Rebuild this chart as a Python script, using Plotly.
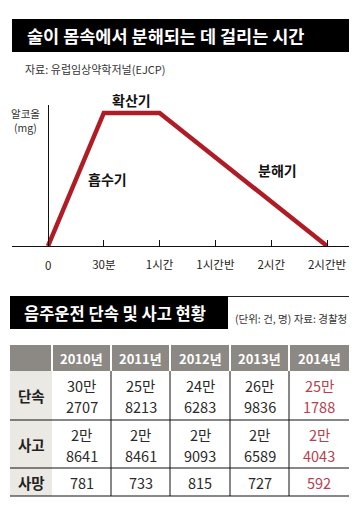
import plotly.graph_objects as go

W, H = 363, 514
FONT = "Noto Sans CJK KR"

# ---- chart data ----
time_min = [0, 30, 60, 150]
alcohol = [0, 100, 100, 0]
tick_vals = [0, 30, 60, 90, 120, 150]
tick_text = ["0", "30분", "1시간", "1시간반", "2시간", "2시간반"]
phase_labels = ["확산기", "흡수기", "분해기"]

# ---- table data ----
row_labels = ["단속", "사고", "사망"]
years = ["2010년", "2011년", "2012년", "2013년", "2014년"]
enforce_top = ["30만", "25만", "24만", "26만", "25만"]
enforce_bot = ["2707", "8213", "6283", "9836", "1788"]
accident_top = ["2만", "2만", "2만", "2만", "2만"]
accident_bot = ["8641", "8461", "9093", "6589", "4043"]
deaths = ["781", "733", "815", "727", "592"]


def px(x):
    return x / W


def py(y):
    return 1 - y / H


fig = go.Figure()
fig.add_trace(go.Scatter(
    x=time_min, y=alcohol, mode="lines",
    line=dict(color="#b01c26", width=4.5),
    hoverinfo="skip", showlegend=False,
))

annotations = []
shapes = []

def text(x, y, s, size, color="#222", bold=False, xanchor="center"):
    annotations.append(dict(
        x=px(x), y=py(y), xref="paper", yref="paper", text=("<b>%s</b>" % s) if bold else s,
        showarrow=False, xanchor=xanchor, yanchor="middle",
        font=dict(family=FONT, size=size, color=color),
    ))

def rect(x0, y0, x1, y1, color):
    shapes.append(dict(type="rect", xref="paper", yref="paper",
                       x0=px(x0), x1=px(x1), y0=py(y1), y1=py(y0),
                       fillcolor=color, line=dict(width=0), layer="below"))

def hline(x0, x1, y, color="#111", width=1):
    shapes.append(dict(type="line", xref="paper", yref="paper",
                       x0=px(x0), x1=px(x1), y0=py(y), y1=py(y),
                       line=dict(color=color, width=width)))

def vline(x, y0, y1, color="#111", width=1):
    shapes.append(dict(type="line", xref="paper", yref="paper",
                       x0=px(x), x1=px(x), y0=py(y0), y1=py(y1),
                       line=dict(color=color, width=width)))

# ---- title 1 ----
rect(12, 19, 349, 52, "#000000")
text(25, 35.5, "술이 몸속에서 분해되는 데 걸리는 시간", 17.5, "#ffffff", True, "left")
text(23, 69, "자료: 유럽임상약학저널(EJCP)", 11, "#333", False, "left")

# chart labels
text(25, 113, "알코올", 10.5, "#333")
text(25, 127, "(mg)", 10.5, "#333")
text(131, 100, phase_labels[0], 14, "#111", True)
text(107, 179, phase_labels[1], 14, "#111", True)
text(277, 170, phase_labels[2], 14, "#111", True)

# ---- title 2 ----
rect(10, 296, 228, 329, "#000000")
hline(228, 349, 296.5, "#222", 1)
text(22, 312.5, "음주운전 단속 및 사고 현황", 16.5, "#ffffff", True, "left")
text(349, 318, "(단위: 건, 명) 자료: 경찰청", 10.5, "#333", False, "right")

# ---- table ----
col_edges = [10, 52, 111, 170, 230, 289, 349]
row_edges = [345, 371, 420, 468, 496]
rect(col_edges[0], row_edges[0], col_edges[-1], row_edges[1], "#8c8984")
rect(col_edges[0], row_edges[1], col_edges[1], row_edges[-1], "#ebe9e3")
for c in range(1, len(col_edges) - 1):
    vline(col_edges[c], row_edges[0], row_edges[1], "#ffffff", 2)
for c in range(2, len(col_edges) - 1):
    vline(col_edges[c], row_edges[1], row_edges[-1], "#111", 1)
for r in range(2, len(row_edges)):
    hline(col_edges[0], col_edges[-1], row_edges[r], "#111", 1)

centers = [(col_edges[i] + col_edges[i + 1]) / 2 for i in range(len(col_edges) - 1)]
for i, yr in enumerate(years):
    text(centers[i + 1], (row_edges[0] + row_edges[1]) / 2 + 0.5, yr, 13, "#ffffff", True)

for r, lab in enumerate(row_labels):
    text(centers[0], (row_edges[r + 1] + row_edges[r + 2]) / 2, lab, 14.5, "#222", True)

two_line_rows = [(enforce_top, enforce_bot), (accident_top, accident_bot)]
for r, (tops, bots) in enumerate(two_line_rows):
    y0, y1 = row_edges[r + 1], row_edges[r + 2]
    mid = (y0 + y1) / 2
    for i in range(len(years)):
        col = "#b8404e" if i == len(years) - 1 else "#2a2a2a"
        text(centers[i + 1], mid - 10, tops[i], 14.5, col)
        text(centers[i + 1], mid + 11, bots[i], 14.5, col)
mid = (row_edges[3] + row_edges[4]) / 2
for i, v in enumerate(deaths):
    col = "#b8404e" if i == len(years) - 1 else "#2a2a2a"
    text(centers[i + 1], mid, v, 14.5, col)

# axes mapping: x px 12..349, data 0 at 48, 150 at 327
sx = (327 - 48) / 150.0
x_lo = (12 - 48) / sx
x_hi = (349 - 48) / sx

fig.update_layout(
    width=W, height=H, autosize=False,
    margin=dict(l=0, r=0, t=0, b=0),
    paper_bgcolor="#ffffff", plot_bgcolor="rgba(0,0,0,0)",
    showlegend=False,
    shapes=shapes,
    xaxis=dict(
        domain=[px(12), px(349)], range=[x_lo, x_hi],
        showgrid=False, zeroline=False, showline=True, linecolor="#111", linewidth=1.2,
        tickmode="array", tickvals=tick_vals[1:], ticktext=tick_text[1:],
        ticks="inside", ticklen=6, tickcolor="#111", tickwidth=1,
        tickfont=dict(family=FONT, size=11.5, color="#222"),
        ticklabelstandoff=8, fixedrange=True,
    ),
    yaxis=dict(
        domain=[py(246), py(105)], range=[0, 106],
        showgrid=False, zeroline=False, showline=True, linecolor="#111", linewidth=1,
        anchor="free", position=px(48),
        showticklabels=False, ticks="", fixedrange=True,
    ),
)
# tick label for 0 (no tick mark there)
text(48, 265, tick_text[0], 11.5, "#222")

fig.update_layout(annotations=annotations)
fig.write_html(
    "out.html",
    config={"displayModeBar": False},
    post_script="document.body.style.margin='0';document.body.style.overflow='hidden';",
)
